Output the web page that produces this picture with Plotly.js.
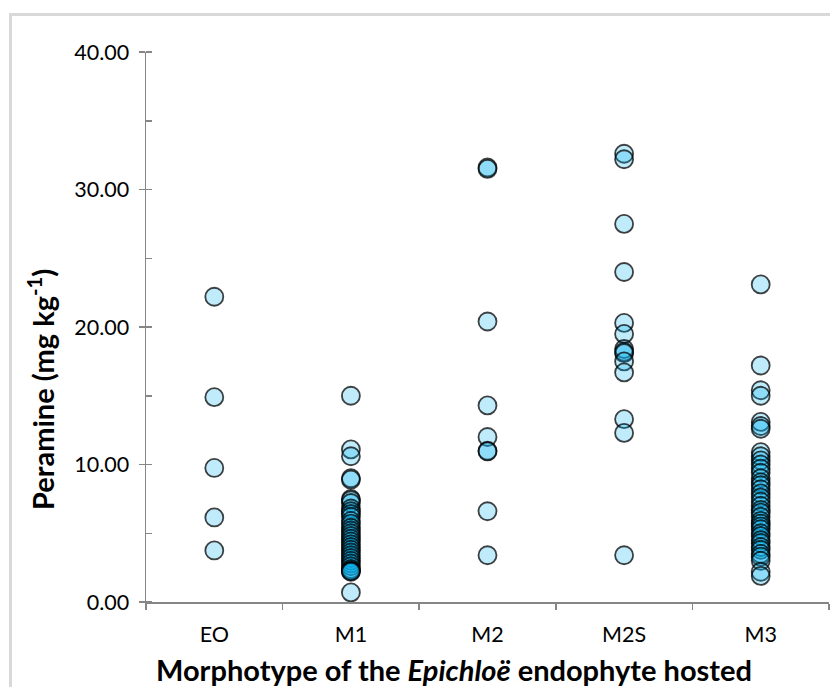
<!DOCTYPE html>
<html>
<head>
<meta charset="utf-8">
<script src="https://cdn.plot.ly/plotly-3.0.1.min.js"></script>
<style>
  html, body { margin: 0; padding: 0; background: #ffffff; }
  #wrap { position: relative; width: 830px; height: 687px; overflow: hidden; }
  #frame { position: absolute; left: 9px; top: 13px; width: 900px; height: 800px;
           border-left: 3px solid #d9d9d9; border-top: 3px solid #d9d9d9; box-sizing: border-box; }
  #chart { position: absolute; left: 0; top: 0; width: 830px; height: 687px; }
</style>
</head>
<body>
<div id="wrap">
  <div id="frame"></div>
  <div id="chart"></div>
</div>
<script>
// Morphotype categories
const categories = ["EO", "M1", "M2", "M2S", "M3"];

// Peramine concentration (mg kg-1) per plant, grouped by morphotype
const valuesEO = [22.2, 14.9, 9.75, 6.15, 3.75];
const valuesM1 = [15.0, 11.1, 10.6, 9.0, 8.9, 7.5, 7.4, 7.2, 6.8, 6.6, 6.4, 6.2, 5.9,
                  5.7, 5.4, 5.2, 5.0, 4.8, 4.6, 4.4, 4.2, 4.0, 3.8, 3.6, 3.4, 3.2,
                  3.0, 2.8, 2.6, 2.4, 2.3, 2.25, 2.2, 0.7];
const valuesM2 = [31.6, 31.5, 20.4, 14.3, 12.0, 11.0, 10.95, 6.6, 3.4];
const valuesM2S = [32.6, 32.2, 27.5, 24.0, 20.3, 19.5, 18.4, 18.2, 18.1, 17.5, 16.7,
                   13.3, 12.3, 3.4];
const valuesM3 = [23.1, 17.2, 15.4, 15.0, 13.1, 12.8, 12.6, 10.9, 10.6, 10.3, 10.0,
                  9.7, 9.4, 9.0, 8.7, 8.5, 8.2, 7.9, 7.6, 7.3, 7.0, 6.7, 6.5, 6.2,
                  5.9, 5.7, 5.5, 5.3, 5.0, 4.8, 4.5, 4.3, 4.0, 3.8, 3.5, 3.3, 3.0,
                  2.2, 1.9];

// Y axis tick labels
const yTickVals = [0, 10, 20, 30, 40];
const yTickText = ["0.00", "10.00", "20.00", "30.00", "40.00"];

const groups = [valuesEO, valuesM1, valuesM2, valuesM2S, valuesM3];
const xs = [], ys = [];
groups.forEach((vals, i) => {
  vals.forEach(v => { xs.push(categories[i]); ys.push(v); });
});

const FONT = "Lato, 'Open Sans', sans-serif";

const trace = {
  type: "scatter",
  mode: "markers",
  x: xs,
  y: ys,
  marker: {
    size: 18,
    color: "rgba(0,176,240,0.25)",
    line: { color: "rgba(0,0,0,0.74)", width: 1.8 }
  },
  hoverinfo: "x+y",
  showlegend: false
};

const axisColor = "#868686";

const layout = {
  width: 830,
  height: 687,
  margin: { l: 146, r: 1, t: 52, b: 85 },
  paper_bgcolor: "rgba(0,0,0,0)",
  plot_bgcolor: "#ffffff",
  font: { family: FONT, size: 22, color: "#000000" },
  xaxis: {
    type: "category",
    categoryorder: "array",
    categoryarray: categories,
    range: [-0.5, 4.5],
    showgrid: false,
    zeroline: false,
    showline: true,
    linecolor: axisColor,
    linewidth: 1.5,
    ticks: "outside",
    tickson: "boundaries",
    ticklen: 6,
    tickwidth: 1.5,
    tickcolor: axisColor,
    ticklabelstandoff: 13,
    tickfont: { family: FONT, size: 21.5, color: "#000000" }
  },
  yaxis: {
    range: [0, 40],
    showgrid: false,
    zeroline: false,
    showline: true,
    linecolor: axisColor,
    linewidth: 1.5,
    tickmode: "array",
    tickvals: yTickVals,
    ticktext: yTickText,
    ticks: "outside",
    ticklen: 6,
    tickwidth: 1.5,
    tickcolor: axisColor,
    ticklabelstandoff: 5,
    tickfont: { family: FONT, size: 21.5, color: "#000000" },
    minor: { dtick: 5, ticks: "inside", ticklen: 6, tickwidth: 1.5, tickcolor: axisColor }
  },
  annotations: [
    {
      text: "<b>Peramine (mg kg<sup>-1</sup>)</b>",
      xref: "paper", yref: "paper",
      x: -0.154, y: 0.387,
      xanchor: "center", yanchor: "middle",
      textangle: -90,
      showarrow: false,
      font: { family: FONT, size: 29, color: "#000000" }
    },
    {
      text: "<b>Morphotype of the <i>Epichloë</i> endophyte hosted</b>",
      xref: "paper", yref: "paper",
      x: 0.451, y: -0.122,
      xanchor: "center", yanchor: "middle",
      showarrow: false,
      font: { family: FONT, size: 29, color: "#000000" }
    }
  ]
};

Plotly.newPlot("chart", [trace], layout, { displayModeBar: false, staticPlot: true });
</script>
</body>
</html>
